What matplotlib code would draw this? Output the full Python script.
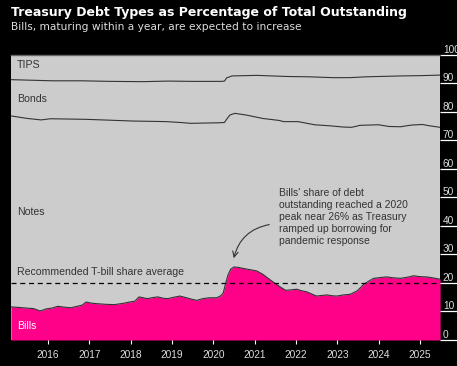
import matplotlib
matplotlib.use("Agg")
import matplotlib.pyplot as plt
import numpy as np

# Bills share of total outstanding (%)
bills_x = [2015.10, 2015.30, 2015.47, 2015.65, 2015.80, 2015.88, 2015.95, 2016.10, 2016.23, 2016.40,
           2016.55, 2016.70, 2016.82, 2016.92, 2017.05, 2017.20, 2017.40, 2017.60, 2017.80, 2017.97,
           2018.10, 2018.20, 2018.30, 2018.40, 2018.55, 2018.65, 2018.80, 2018.90, 2019.05, 2019.19,
           2019.35, 2019.50, 2019.60, 2019.75, 2019.90, 2020.08, 2020.18, 2020.24, 2020.30, 2020.36,
           2020.42, 2020.50, 2020.62, 2020.75, 2020.90, 2021.05, 2021.20, 2021.30, 2021.42, 2021.53,
           2021.65, 2021.75, 2021.90, 2022.02, 2022.15, 2022.26, 2022.40, 2022.50, 2022.62, 2022.75,
           2022.88, 2022.99, 2023.15, 2023.31, 2023.48, 2023.56, 2023.64, 2023.76, 2023.88, 2024.05,
           2024.20, 2024.35, 2024.53, 2024.70, 2024.85, 2025.00, 2025.17, 2025.30, 2025.49]
bills = [11.6, 11.4, 11.2, 11.0, 10.2, 10.5, 10.9, 11.2, 11.8, 11.5,
         11.3, 11.8, 12.2, 13.3, 12.9, 12.7, 12.5, 12.4, 12.8, 13.3,
         13.6, 15.1, 14.8, 14.5, 14.9, 15.1, 14.6, 14.5, 15.0, 15.4,
         14.8, 14.2, 13.9, 14.5, 14.8, 14.8, 15.5, 16.5, 20.0, 23.0,
         24.8, 25.6, 25.4, 25.0, 24.6, 24.2, 23.0, 21.9, 20.6, 19.5,
         18.3, 17.4, 17.6, 17.8, 17.2, 16.9, 16.0, 15.4, 15.6, 15.8,
         15.5, 15.4, 15.8, 16.0, 17.2, 18.3, 19.5, 20.6, 21.6, 21.9,
         22.1, 21.8, 21.6, 22.0, 22.5, 22.2, 22.1, 21.8, 21.3]

# Bills + Notes cumulative (%), boundary with Bonds
notes_x = [2015.10, 2015.50, 2015.83, 2016.05, 2016.50, 2016.92, 2017.50, 2018.05, 2018.50, 2018.86,
           2019.20, 2019.45, 2019.80, 2020.15, 2020.27, 2020.32, 2020.40, 2020.52, 2020.80, 2021.20,
           2021.60, 2021.70, 2022.05, 2022.45, 2022.85, 2023.15, 2023.35, 2023.55, 2024.00, 2024.25,
           2024.53, 2024.80, 2025.06, 2025.25, 2025.49]
notes_top = [78.5, 77.6, 77.1, 77.5, 77.4, 77.3, 77.0, 76.7, 76.6, 76.5,
             76.2, 75.9, 76.0, 76.1, 76.2, 77.3, 78.8, 79.4, 78.8, 77.6,
             76.9, 76.5, 76.5, 75.4, 75.0, 74.6, 74.5, 75.2, 75.4, 74.8,
             74.7, 75.3, 75.5, 75.0, 74.5]

# Bills + Notes + Bonds cumulative (%), boundary with TIPS
bonds_x = [2015.10, 2015.60, 2016.10, 2016.80, 2017.50, 2018.30, 2018.90, 2019.50, 2020.20, 2020.27,
           2020.32, 2020.45, 2021.05, 2021.80, 2022.30, 2022.90, 2023.30, 2023.70, 2024.53, 2025.00,
           2025.49]
bonds_top = [91.2, 91.0, 90.8, 90.8, 90.6, 90.5, 90.7, 90.6, 90.6, 90.7,
             91.8, 92.5, 92.7, 92.3, 92.2, 91.9, 91.9, 92.2, 92.5, 92.6,
             92.8]

target_share = 20
years = list(range(2016, 2026))
y_ticks = list(range(0, 101, 10))

pink = "#ff0088"
bg_gray = "#cccccc"
ink = "#333333"
txt_font = ["Liberation Sans", "DejaVu Sans"]

fig = plt.figure(figsize=(4.57, 3.66), dpi=100, facecolor="black")
ax = fig.add_axes([0.024, 0.071, 0.939, 0.780])
ax.set_facecolor(bg_gray)

ax.fill_between(bills_x, 0, bills, color=pink, lw=0)
ax.plot(bills_x, bills, color=ink, lw=0.8)
ax.plot(notes_x, notes_top, color=ink, lw=0.8)
ax.plot(bonds_x, bonds_top, color=ink, lw=0.8)
ax.axhline(target_share, color="black", lw=0.9, dashes=(4, 3))

ax.set_xlim(bills_x[0], bills_x[-1])
ax.set_ylim(0, 100)

# x axis
ax.set_xticks(years)
ax.set_xticklabels([str(y) for y in years])
ax.tick_params(axis="x", colors="white", length=3, width=0.8, labelsize=7.3, pad=4)
for lab in ax.get_xticklabels():
    lab.set_family(txt_font)
    lab.set_color("#dddddd")

# y axis on the right, labels sitting on top of the tick lines
ax.yaxis.tick_right()
ax.set_yticks(y_ticks)
ax.set_yticklabels([str(v) for v in y_ticks])
ax.tick_params(axis="y", colors="white", length=12, width=0.9, labelsize=7.3, pad=-10)
for lab in ax.get_yticklabels():
    lab.set_va("bottom")
    lab.set_family(txt_font)
    lab.set_color("#dddddd")

for side in ["left", "right", "bottom"]:
    ax.spines[side].set_visible(False)
ax.spines["top"].set_color("#666666")
ax.spines["top"].set_linewidth(1.0)

# series labels
ax.text(0.014, 96.3, "TIPS", transform=ax.get_yaxis_transform(), va="center", ha="left",
        fontsize=7.6, color=ink, family=txt_font)
ax.text(0.014, 84.4, "Bonds", transform=ax.get_yaxis_transform(), va="center", ha="left",
        fontsize=7.6, color=ink, family=txt_font)
ax.text(0.014, 44.8, "Notes", transform=ax.get_yaxis_transform(), va="center", ha="left",
        fontsize=7.6, color=ink, family=txt_font)
ax.text(0.014, 23.8, "Recommended T-bill share average", transform=ax.get_yaxis_transform(),
        va="center", ha="left", fontsize=7.6, color=ink, family=txt_font)
ax.text(0.014, 4.9, "Bills", transform=ax.get_yaxis_transform(), va="center", ha="left",
        fontsize=7.6, color="white", family=txt_font)

# annotation
ax.text(2021.59, 53.2, "Bills' share of debt\noutstanding reached a 2020\npeak near 26% as Treasury\n"
        "ramped up borrowing for\npandemic response", va="top", ha="left", fontsize=7.5,
        color=ink, family=txt_font, linespacing=1.25)
ax.annotate("", xy=(2020.48, 27.7), xytext=(2021.42, 40.6),
            arrowprops=dict(arrowstyle="->", color=ink, lw=0.8,
                            connectionstyle="arc3,rad=0.35"))

# titles
fig.text(0.024, 0.966, "Treasury Debt Types as Percentage of Total Outstanding", color="white",
         fontsize=9.0, fontweight="bold", va="center", ha="left")
fig.text(0.024, 0.927, "Bills, maturing within a year, are expected to increase", color="#dddddd",
         fontsize=7.7, va="center", ha="left")

fig.savefig("out.png", dpi=100, facecolor="black")
